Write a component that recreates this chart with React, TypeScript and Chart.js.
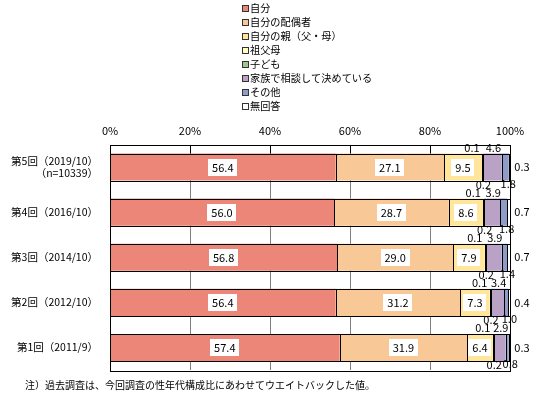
import React, { useEffect, useRef } from 'react';
import { Chart, registerables } from 'chart.js';

Chart.register(...registerables);

const categories: (string | string[])[] = [
  ['第5回（2019/10）', '（n=10339）'],
  '第4回（2016/10）',
  '第3回（2014/10）',
  '第2回（2012/10）',
  '第1回（2011/9）',
];
const seriesNames = [
  '自分',
  '自分の配偶者',
  '自分の親（父・母）',
  '祖父母',
  '子ども',
  '家族で相談して決めている',
  'その他',
  '無回答',
];
const selfValues = [56.4, 56.0, 56.8, 56.4, 57.4];
const spouseValues = [27.1, 28.7, 29.0, 31.2, 31.9];
const parentValues = [9.5, 8.6, 7.9, 7.3, 6.4];
const grandparentValues = [0.1, 0.1, 0.1, 0.1, 0.1];
const childValues = [0.2, 0.2, 0.2, 0.2, 0.2];
const familyValues = [4.6, 3.9, 3.9, 3.4, 2.9];
const otherValues = [1.8, 1.8, 1.4, 1.0, 0.8];
const noAnswerValues = [0.3, 0.7, 0.7, 0.4, 0.3];
const xTicks = [0, 20, 40, 60, 80, 100];
const note = '注）過去調査は、今回調査の性年代構成比にあわせてウエイトバックした値。';

const seriesValues = [
  selfValues,
  spouseValues,
  parentValues,
  grandparentValues,
  childValues,
  familyValues,
  otherValues,
  noAnswerValues,
];
const colors = ['#EC8679', '#F9C897', '#FFE69A', '#FFFFC4', '#9DC98E', '#B9A2C5', '#8E9CC7', '#FFFFFF'];

const FONT = '"Noto Sans CJK JP", "Noto Sans", sans-serif';

const overlay = {
  id: 'overlay',
  beforeDatasetsDraw(chart: any) {
    const ctx = chart.ctx as CanvasRenderingContext2D;
    const ca = chart.chartArea;
    const xs = chart.scales.x;
    const ys = chart.scales.y;
    const barTop = Math.round(ys.getPixelForValue(0) - 13.5);
    ctx.save();
    ctx.lineWidth = 1;
    xTicks.forEach((v) => {
      if (v === xTicks[0] || v === xTicks[xTicks.length - 1]) return;
      const px = Math.round(xs.getPixelForValue(v)) + 0.5;
      ctx.strokeStyle = '#808080';
      ctx.beginPath();
      ctx.moveTo(px, Math.round(ca.top));
      ctx.lineTo(px, Math.round(ca.bottom));
      ctx.stroke();
      ctx.strokeStyle = '#000';
      ctx.beginPath();
      ctx.moveTo(px, Math.round(ca.top));
      ctx.lineTo(px, barTop);
      ctx.stroke();
    });
    ctx.restore();
  },
  afterDatasetsDraw(chart: any) {
    const ctx = chart.ctx as CanvasRenderingContext2D;
    const ca = chart.chartArea;
    ctx.save();
    ctx.strokeStyle = '#000';
    ctx.lineWidth = 1;
    chart.data.datasets.forEach((ds: any, i: number) => {
      const meta = chart.getDatasetMeta(i);
      meta.data.forEach((bar: any) => {
        const p = bar.getProps(['x', 'y', 'base', 'height'], true);
        const l = Math.round(Math.min(p.x, p.base));
        const r = Math.round(Math.max(p.x, p.base));
        const t = Math.round(p.y - p.height / 2);
        const b = Math.round(p.y + p.height / 2);
        ctx.strokeRect(l + 0.5, t + 0.5, r - l, b - t);
      });
    });
    ctx.strokeRect(
      Math.round(ca.left) + 0.5,
      Math.round(ca.top) + 0.5,
      Math.round(ca.right - ca.left),
      Math.round(ca.bottom - ca.top)
    );
    ctx.font = `11px ${FONT}`;
    ctx.textAlign = 'center';
    ctx.textBaseline = 'middle';
    chart.data.datasets.forEach((ds: any, i: number) => {
      const meta = chart.getDatasetMeta(i);
      meta.data.forEach((bar: any, j: number) => {
        const v = ds.data[j] as number;
        const p = bar.getProps(['x', 'y', 'base', 'height'], true);
        const l = Math.min(p.x, p.base);
        const r = Math.max(p.x, p.base);
        const top = p.y - p.height / 2;
        const bottom = p.y + p.height / 2;
        const txt = v.toFixed(1);
        if (v >= 5) {
          const cx = (l + r) / 2;
          const w = ctx.measureText(txt).width + 8;
          ctx.fillStyle = '#fff';
          ctx.fillRect(Math.round(cx - w / 2), Math.round(p.y - 8.5), Math.round(w), 17);
          ctx.fillStyle = '#000';
          ctx.fillText(txt, cx, p.y + 0.5);
          return;
        }
        let tx = 0;
        let ty = 0;
        switch (i) {
          case 3:
            tx = l - 10;
            ty = top - 6;
            break;
          case 4:
            tx = l + 1;
            ty = bottom + 4;
            break;
          case 5:
            tx = (l + r) / 2 + 1;
            ty = top - 6;
            break;
          case 6:
            tx = (l + r) / 2 + 3;
            ty = bottom + 3;
            break;
          default:
            tx = ca.right + 12;
            ty = p.y;
        }
        ctx.fillStyle = '#000';
        ctx.fillText(txt, tx, ty);
      });
    });
    ctx.restore();
  },
  afterDraw(chart: any) {
    const ctx = chart.ctx as CanvasRenderingContext2D;
    ctx.save();
    ctx.font = `10.2px ${FONT}`;
    ctx.textAlign = 'left';
    ctx.textBaseline = 'middle';
    chart.data.datasets.forEach((ds: any, i: number) => {
      const cy = Math.round(8 + i * 14);
      ctx.fillStyle = ds.backgroundColor;
      ctx.fillRect(242, cy - 3, 6, 6);
      ctx.strokeStyle = '#333';
      ctx.lineWidth = 1;
      ctx.strokeRect(242.5, cy - 2.5, 6, 6);
      ctx.fillStyle = '#000';
      ctx.fillText(ds.label, 250, cy + 0.5);
    });
    ctx.font = `10px ${FONT}`;
    ctx.fillText(note, 25, 385);
    ctx.restore();
  },
};

export default function App() {
  const ref = useRef<HTMLCanvasElement>(null);
  useEffect(() => {
    document.body.style.margin = '0';
    const canvas = ref.current!;
    const chart = new Chart(canvas, {
      type: 'bar',
      data: {
        labels: categories as any,
        datasets: seriesNames.map((name, i) => ({
          label: name,
          data: seriesValues[i],
          backgroundColor: colors[i],
          borderWidth: 0,
          barPercentage: 0.6,
          categoryPercentage: 1,
        })),
      },
      options: {
        indexAxis: 'y',
        responsive: false,
        maintainAspectRatio: false,
        animation: false,
        layout: { padding: { top: 120.5, right: 26, bottom: 27, left: 0 } },
        plugins: { legend: { display: false }, tooltip: { enabled: false } },
        scales: {
          x: {
            stacked: true,
            position: 'top',
            min: 0,
            max: 100,
            afterBuildTicks: (s: any) => {
              s.ticks = xTicks.map((v) => ({ value: v }));
            },
            ticks: {
              callback: (v: any) => v + '%',
              padding: 7,
              color: '#000',
              maxRotation: 0,
              font: { family: FONT, size: 11 },
            },
            grid: { display: false, drawTicks: false },
            border: { display: false },
            afterFit: (s: any) => {
              s.height = 24;
            },
          },
          y: {
            stacked: true,
            ticks: { color: '#000', padding: 12, font: { family: FONT, size: 10.5 } },
            grid: { display: false, drawTicks: false },
            border: { display: false },
            afterFit: (s: any) => {
              s.width = 110;
            },
          },
        },
      } as any,
      plugins: [overlay],
    });
    return () => chart.destroy();
  }, []);
  return <canvas ref={ref} width={536} height={397} style={{ display: 'block' }} />;
}
